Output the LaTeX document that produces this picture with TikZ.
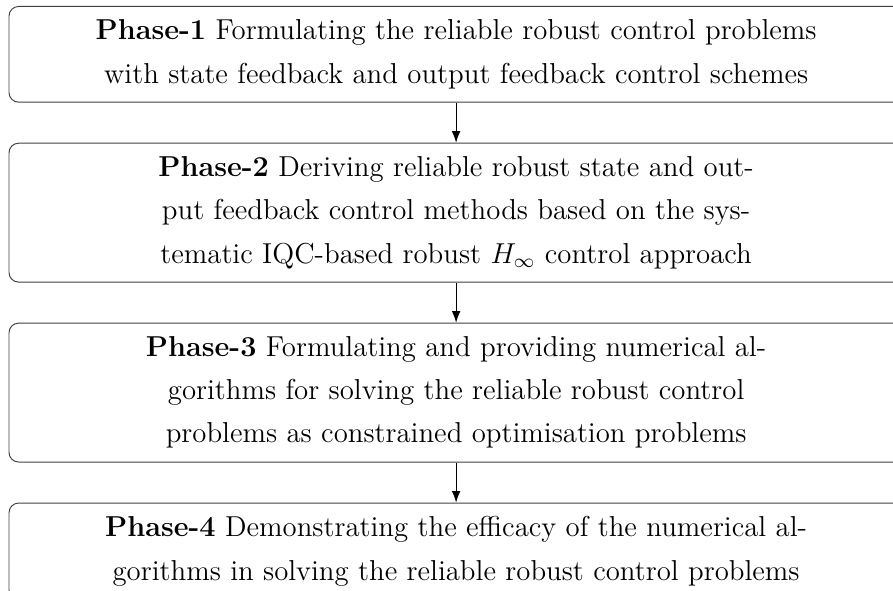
\documentclass[tikz,border=0pt]{standalone}
\usepackage{amsmath, amssymb}
\usepackage{xcolor}
\usepackage{tikz}
\usetikzlibrary{positioning, arrows.meta}
\tikzset{
    phase/.style={rectangle, draw=black!75, rounded corners=4pt, align=center, minimum width=372.5pt, inner xsep=5pt, inner ysep=5.6pt, font=\fontsize{12}{18}\selectfont},
    arrow/.style={-Latex, draw=black}
}

\begin{document}
\begin{tikzpicture}[node distance=16.7pt]
        \useasboundingbox (0,0) rectangle (372pt,-246pt);
        % Phases
        \node[phase, anchor=north] (P1) at (190pt,-2.5pt) {\textbf{Phase-1} Formulating the reliable robust control problems\\with state feedback and output feedback control schemes};
        \node[phase, below=of P1] (P2) {\textbf{Phase-2} Deriving reliable robust state and out-\\put feedback control methods based on the sys-\\tematic IQC-based robust $H_\infty$ control approach};
        \node[phase, below=of P2] (P3) {\textbf{Phase-3} Formulating and providing numerical al-\\gorithms for solving the reliable robust control\\problems as constrained optimisation problems};
        \node[phase, below=of P3] (P4) {\textbf{Phase-4} Demonstrating the efficacy of the numerical al-\\gorithms in solving the reliable robust control problems};
        
        % Wires
        \draw[arrow] (P1) -- (P2);
        \draw[arrow] (P2) -- (P3);
        \draw[arrow] (P3) -- (P4);

    \end{tikzpicture}
\end{document}
